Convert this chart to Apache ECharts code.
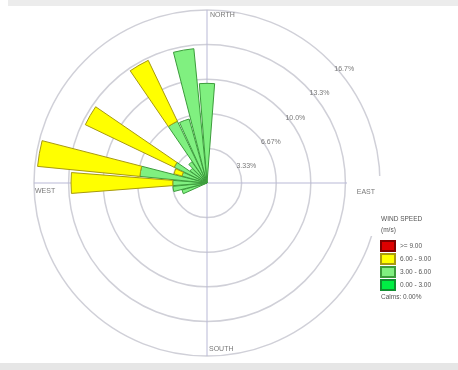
<!DOCTYPE html>
<html><head><meta charset="utf-8">
<script src="https://cdn.jsdelivr.net/npm/echarts@6/dist/echarts.min.js"></script>
<style>html,body{margin:0;padding:0;background:#fff}#c{width:458px;height:370px}</style>
</head><body><div id="c"></div>
<script>
// 36 wind directions (degrees, clockwise from north)
const directions = ['0','10','20','30','40','50','60','70','80','90','100','110','120','130','140','150','160','170',
  '180','190','200','210','220','230','240','250','260','270','280','290','300','310','320','330','340','350'];
// frequency (%) per speed class, per direction
const speed0to3 = [0,0,0,0,0,0,0,0,0,0,0,0,0,0,0,0,0,0, 0,0,0,0,0,0,0,0,0,0,0,0,0,0,0,0,0,0];
const speed3to6 = [9.6,0,0,0,0,0,0,0,0,0,0,0,0,0,0,0,0,0, 0,0,0,0,0,0,0,2.5,3.3,3.3,6.5,2.5,3.5,2.0,2.5,6.6,6.4,13.0];
const speed6to9 = [0,0,0,0,0,0,0,0,0,0,0,0,0,0,0,0,0,0, 0,0,0,0,0,0,0,0,0,9.8,9.9,0.8,9.5,0,0,6.5,0,0];
const speed9up  = [0,0,0,0,0,0,0,0,0,0,0,0,0,0,0,0,0,0, 0,0,0,0,0,0,0,0,0,0,0,0,0,0,0,0,0,0];
const classNames = ['>= 9.00','6.00 - 9.00','3.00 - 6.00','0.00 - 3.00'];
const ringLabels = ['3.33%','6.67%','10.0%','13.3%','16.7%'];
const cardinalNames = ['NORTH','EAST','SOUTH','WEST'];
const cardinalAngles = [0,90,180,270];
const legendTitle = ['WIND SPEED','(m/s)'];
const calmsText = 'Calms: 0.00%';

const FONT = 'Liberation Sans';
const C = [207,183], R = 173;
const STEP = 10/3, RMAX = 50/3;

const chart = echarts.init(document.getElementById('c'), null, {renderer:'canvas'});

function barSeries(name, data, fill, border){
  return {type:'bar', name:name, coordinateSystem:'polar', polarIndex:0, stack:'rose',
    data:data.map(v => v === 0 ? '-' : v),
    barCategoryGap:'12%', itemStyle:{color:fill, borderColor:border, borderWidth:1}, z:2};
}
const cardinalLabelCfg = [
  {position:'right', distance:3, offset:[0,5]},
  {position:'left', distance:5, offset:[0,9]},
  {position:'right', distance:2, offset:[0,-7]},
  {position:'right', distance:1, offset:[0,8]}
];

const option = {
  animation:false,
  backgroundColor:'#ffffff',
  polar:[{center:C, radius:R},{center:C, radius:R}],
  angleAxis:[
    {polarIndex:0, type:'category', data:directions, startAngle:95, clockwise:true,
     axisLine:{show:false}, axisTick:{show:false}, axisLabel:{show:false}, splitLine:{show:false}},
    {polarIndex:1, type:'value', min:0, max:360, interval:90, startAngle:90, clockwise:true,
     axisLine:{show:false}, axisTick:{show:false}, axisLabel:{show:false},
     splitLine:{show:true, lineStyle:{color:'#b9b9d6', width:1}}}
  ],
  radiusAxis:[
    {polarIndex:0, type:'value', min:0, max:RMAX, interval:STEP,
     axisLine:{show:false}, axisTick:{show:false}, axisLabel:{show:false},
     splitLine:{show:true, lineStyle:{color:'#d0d0d8', width:1.5}}},
    {polarIndex:1, type:'value', min:0, max:RMAX,
     axisLine:{show:false}, axisTick:{show:false}, axisLabel:{show:false}, splitLine:{show:false}}
  ],
  legend:{orient:'vertical', left:380, top:240, padding:0, itemWidth:14, itemHeight:10, itemGap:1,
    data:classNames, icon:'rect', selectedMode:false,
    textStyle:{fontSize:6.5, lineHeight:10, color:'#555', fontFamily:FONT}},
  series:[
    barSeries(classNames[3], speed0to3, '#00ee44', '#109030'),
    barSeries(classNames[2], speed3to6, '#80f080', '#3c9c3c'),
    barSeries(classNames[1], speed6to9, '#ffff00', '#a89a10'),
    barSeries(classNames[0], speed9up, '#dd0000', '#800000'),
    {type:'scatter', coordinateSystem:'polar', polarIndex:1, symbolSize:0, z:10, silent:true,
     data:ringLabels.map(l => ({value:[Math.min(parseFloat(l), RMAX),45], label:{formatter:l}})),
     label:{show:true, position:'right', distance:4, offset:[1,8], fontSize:7, color:'#555', fontFamily:FONT}},
    {type:'scatter', coordinateSystem:'polar', polarIndex:1, symbolSize:0, z:10, silent:true,
     data:cardinalNames.map((n,i) => ({value:[RMAX, cardinalAngles[i]], label:Object.assign({formatter:n}, cardinalLabelCfg[i])})),
     label:{show:true, fontSize:7, color:'#555', fontFamily:FONT}}
  ],
  graphic:[
    {type:'rect', shape:{x:8,y:0,width:450,height:6}, style:{fill:'#ececec'}, z:-1},
    {type:'rect', shape:{x:0,y:363,width:458,height:7}, style:{fill:'#e6e6e6'}, z:-1},
    {type:'rect', shape:{x:347,y:176,width:38,height:60}, style:{fill:'#ffffff'}, z:5},
    {type:'text', left:381, top:214, z:10, style:{text:legendTitle.join('\n'), fontSize:6.5, lineHeight:11, fill:'#555', fontFamily:FONT}},
    {type:'text', left:381, top:294, z:10, style:{text:calmsText, fontSize:6.5, fill:'#555', fontFamily:FONT}}
  ]
};
chart.setOption(option);
</script>
</body></html>
